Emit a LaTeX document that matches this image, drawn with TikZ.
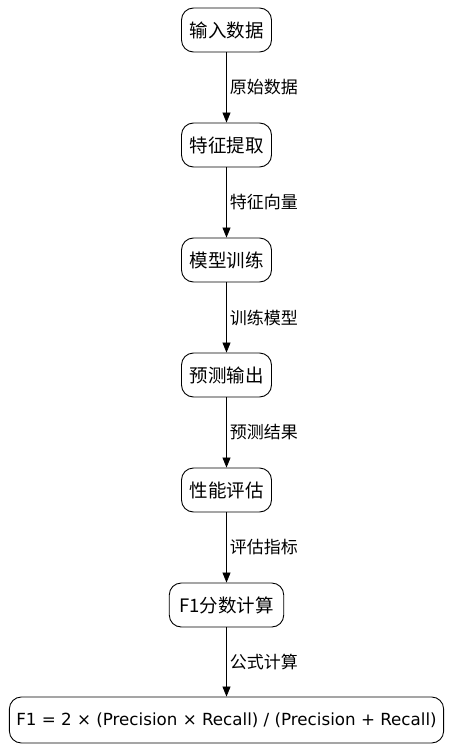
\documentclass[tikz,border=0pt]{standalone}
\usepackage{fontspec}
\setmainfont{DejaVu Sans}
\newfontfamily\cjk{Noto Sans CJK SC}
\usetikzlibrary{arrows.meta}
\begin{document}
\begin{tikzpicture}[x=1pt,y=-1pt,
  box/.style={draw,line width=0.9pt,rounded corners=12pt,minimum height=44pt,inner xsep=8pt,font=\fontsize{18.5}{21}\selectfont\cjk},
  elabel/.style={anchor=west,font=\fontsize{17}{20}\selectfont\cjk,inner sep=0pt},
  arr/.style={-{Triangle[length=10pt,width=8pt]},line width=0.8pt}]
\useasboundingbox (0,0) rectangle (453,749);
\node[box] (n1) at (226.5,30) {输入数据};
\node[box] (n2) at (226.5,145) {特征提取};
\node[box] (n3) at (226.5,260) {模型训练};
\node[box] (n4) at (226.5,375) {预测输出};
\node[box] (n5) at (226.5,490) {性能评估};
\node[box,inner xsep=10pt] (n6) at (226.5,605) {F1分数计算};
\node[box,minimum height=46pt,inner xsep=7pt,font=\fontsize{16.7}{20}\selectfont] (n7) at (226.5,720) {F1 = 2 × (Precision × Recall) / (Precision + Recall)};
\draw[arr] (n1) -- node[elabel,xshift=3pt] (l1) {原始数据} (n2);
\draw[arr] (n2) -- node[elabel,xshift=3pt] (l2) {特征向量} (n3);
\draw[arr] (n3) -- node[elabel,xshift=3pt] (l3) {训练模型} (n4);
\draw[arr] (n4) -- node[elabel,xshift=3pt] (l4) {预测结果} (n5);
\draw[arr] (n5) -- node[elabel,xshift=3pt] (l5) {评估指标} (n6);
\draw[arr] (n6) -- node[elabel,xshift=3pt] (l6) {公式计算} (n7);
\end{tikzpicture}
\end{document}
